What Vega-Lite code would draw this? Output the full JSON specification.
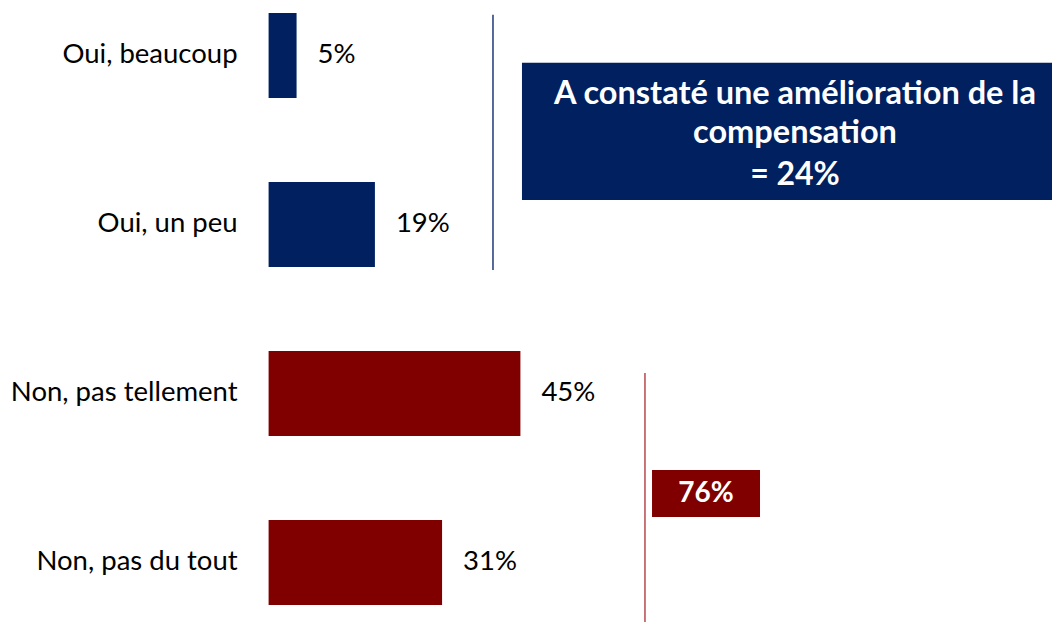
{
  "$schema": "https://vega.github.io/schema/vega-lite/v6.json",
  "width": 1052,
  "height": 626,
  "padding": 0,
  "autosize": {"type": "none"},
  "background": "white",
  "config": {"view": {"stroke": null}, "font": "Lato"},
  "resolve": {"scale": {"x": "shared", "y": "shared"}},
  "layer": [
    {
      "data": {"name": "bars", "values": [
        {"row": 0, "label": "Oui, beaucoup", "value": 5, "text": "5%", "group": "oui"},
        {"row": 1, "label": "Oui, un peu", "value": 19, "text": "19%", "group": "oui"},
        {"row": 2, "label": "Non, pas tellement", "value": 45, "text": "45%", "group": "non"},
        {"row": 3, "label": "Non, pas du tout", "value": 31, "text": "31%", "group": "non"}
      ]},
      "layer": [
        {
          "mark": {"type": "bar", "orient": "horizontal", "size": 85},
          "encoding": {
            "x": {"field": "value", "type": "quantitative", "scale": {"domain": [-48, 140], "nice": false, "zero": false, "padding": 0}, "axis": null},
            "y": {"field": "row", "type": "quantitative", "scale": {"domain": [-0.328, 3.376], "reverse": true, "nice": false, "zero": false, "padding": 0}, "axis": null},
            "color": {"field": "group", "type": "nominal", "scale": {"domain": ["oui", "non"], "range": ["#002060", "#800000"]}, "legend": null}
          }
        },
        {
          "mark": {"type": "text", "align": "left", "baseline": "middle", "dx": 21, "fontSize": 27.5, "color": "#000000"},
          "encoding": {
            "x": {"field": "value", "type": "quantitative"},
            "y": {"field": "row", "type": "quantitative"},
            "text": {"field": "text"}
          }
        },
        {
          "mark": {"type": "text", "align": "right", "baseline": "middle", "dx": -31, "fontSize": 27.5, "color": "#000000"},
          "encoding": {
            "x": {"datum": 0, "type": "quantitative"},
            "y": {"field": "row", "type": "quantitative"},
            "text": {"field": "label"}
          }
        }
      ]
    },
    {
      "data": {"values": [{"k": 1}]},
      "layer": [
        {
          "mark": {"type": "rule", "color": "#1F3A7A", "strokeWidth": 1.5},
          "encoding": {"x": {"datum": 40.1, "type": "quantitative"}, "y": {"datum": -0.24, "type": "quantitative"}, "y2": {"datum": 1.269}}
        },
        {
          "mark": {"type": "rect", "color": "#002060"},
          "encoding": {"x": {"datum": 45.28, "type": "quantitative"}, "x2": {"datum": 140}, "y": {"datum": 0.044, "type": "quantitative"}, "y2": {"datum": 0.855}}
        },
        {
          "mark": {"type": "text", "align": "center", "baseline": "middle", "fontSize": 32.5, "fontWeight": "bold", "color": "white", "lineHeight": 39},
          "encoding": {"x": {"datum": 94.07, "type": "quantitative"}, "y": {"datum": 0.228, "type": "quantitative"}, "text": {"value": ["A constaté une amélioration de la", "compensation"]}}
        },
        {
          "mark": {"type": "text", "align": "center", "baseline": "middle", "fontSize": 32, "fontWeight": "bold", "color": "white"},
          "encoding": {"x": {"datum": 94.07, "type": "quantitative"}, "y": {"datum": 0.707, "type": "quantitative"}, "text": {"value": "= 24%"}}
        },
        {
          "mark": {"type": "rule", "color": "#B5484C", "strokeWidth": 1.5},
          "encoding": {"x": {"datum": 67.26, "type": "quantitative"}, "y": {"datum": 1.879, "type": "quantitative"}, "y2": {"datum": 3.352}}
        },
        {
          "mark": {"type": "rect", "color": "#800000"},
          "encoding": {"x": {"datum": 68.52, "type": "quantitative"}, "x2": {"datum": 87.82}, "y": {"datum": 2.453, "type": "quantitative"}, "y2": {"datum": 2.731}}
        },
        {
          "mark": {"type": "text", "align": "center", "baseline": "middle", "fontSize": 28, "fontWeight": "bold", "color": "white"},
          "encoding": {"x": {"datum": 78.18, "type": "quantitative"}, "y": {"datum": 2.595, "type": "quantitative"}, "text": {"value": "76%"}}
        }
      ]
    }
  ]
}
